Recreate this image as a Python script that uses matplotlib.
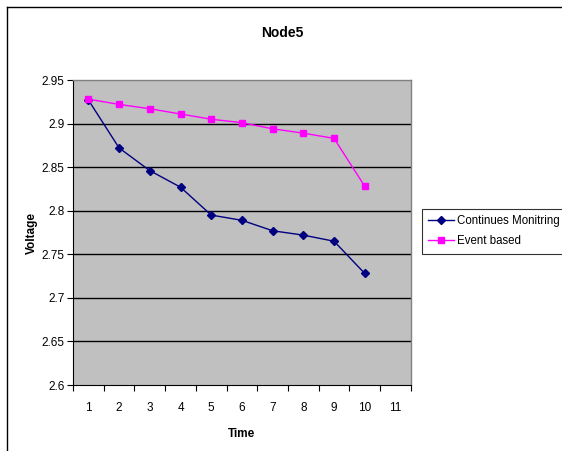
import matplotlib.pyplot as plt
from matplotlib.lines import Line2D
from matplotlib.ticker import FixedLocator, NullFormatter, FixedFormatter

plt.rcParams['font.family'] = ['Liberation Sans', 'DejaVu Sans']

# 数据
time = [1, 2, 3, 4, 5, 6, 7, 8, 9, 10]
continues = [2.927, 2.872, 2.846, 2.827, 2.795, 2.789, 2.777, 2.772, 2.765, 2.728]
event_based = [2.928, 2.922, 2.917, 2.911, 2.905, 2.901, 2.894, 2.889, 2.883, 2.828]
x_labels = [str(i) for i in range(1, 12)]
y_ticks = [2.6, 2.65, 2.7, 2.75, 2.8, 2.85, 2.9, 2.95]

fig = plt.figure(figsize=(5.62, 4.51), dpi=100)
ax = fig.add_axes([0.130, 0.1463, 0.601, 0.6763])
ax.set_facecolor('#C0C0C0')

# 外框
fig.add_artist(Line2D([7 / 562, 7 / 562], [0, 1 - 7 / 451], color='black', lw=1.0))
fig.add_artist(Line2D([7 / 562, 1], [1 - 7 / 451, 1 - 7 / 451], color='black', lw=1.0))

# 网格
for yv in y_ticks[1:-1]:
    ax.axhline(yv, color='black', lw=1.0, zorder=1)

ax.plot(time, continues, color='#000080', lw=1.0, marker='D', markersize=4.5,
        label='Continues Monitring', zorder=3)
ax.plot(time, event_based, color='#FF00FF', lw=1.0, marker='s', markersize=5,
        label='Event based', zorder=3)

ax.set_xlim(0.5, 11.5)
ax.set_ylim(2.6, 2.95)
ax.set_yticks(y_ticks)
ax.set_yticklabels([f'{v:g}' for v in y_ticks])

# 类别轴：刻度线在类别之间，标签在中心
ax.xaxis.set_major_locator(FixedLocator([i + 0.5 for i in range(0, 12)]))
ax.xaxis.set_major_formatter(NullFormatter())
ax.xaxis.set_minor_locator(FixedLocator(list(range(1, 12))))
ax.xaxis.set_minor_formatter(FixedFormatter(x_labels))
ax.tick_params(axis='x', which='major', direction='out', length=4, width=0.8)
ax.tick_params(axis='x', which='minor', length=0, pad=12, labelsize=8.5)
ax.tick_params(axis='y', direction='out', length=4, width=0.8, labelsize=8.5, pad=2)

for side in ['top', 'right']:
    ax.spines[side].set_color('#808080')
    ax.spines[side].set_linewidth(1.0)
for side in ['left', 'bottom']:
    ax.spines[side].set_color('black')
    ax.spines[side].set_linewidth(0.8)

ax.set_xlabel('Time', fontsize=8.5, fontweight='bold', labelpad=10)
ax.set_ylabel('Voltage', fontsize=8.5, fontweight='bold', labelpad=3)
fig.text(0.502, 1 - 33 / 451, 'Node5', ha='center', va='center',
         fontsize=10, fontweight='bold')

leg = ax.legend(loc='upper left',
                bbox_to_anchor=(422 / 562, 1 - 254 / 451, 160 / 562, 45 / 451),
                bbox_transform=fig.transFigure, mode='expand', fontsize=8.3,
                frameon=True, fancybox=False, edgecolor='black', borderpad=0.55,
                handlelength=2.2, handletextpad=0.3, labelspacing=0.7,
                borderaxespad=0)
leg.get_frame().set_linewidth(0.8)

fig.savefig('out.png', dpi=100, facecolor='white')
